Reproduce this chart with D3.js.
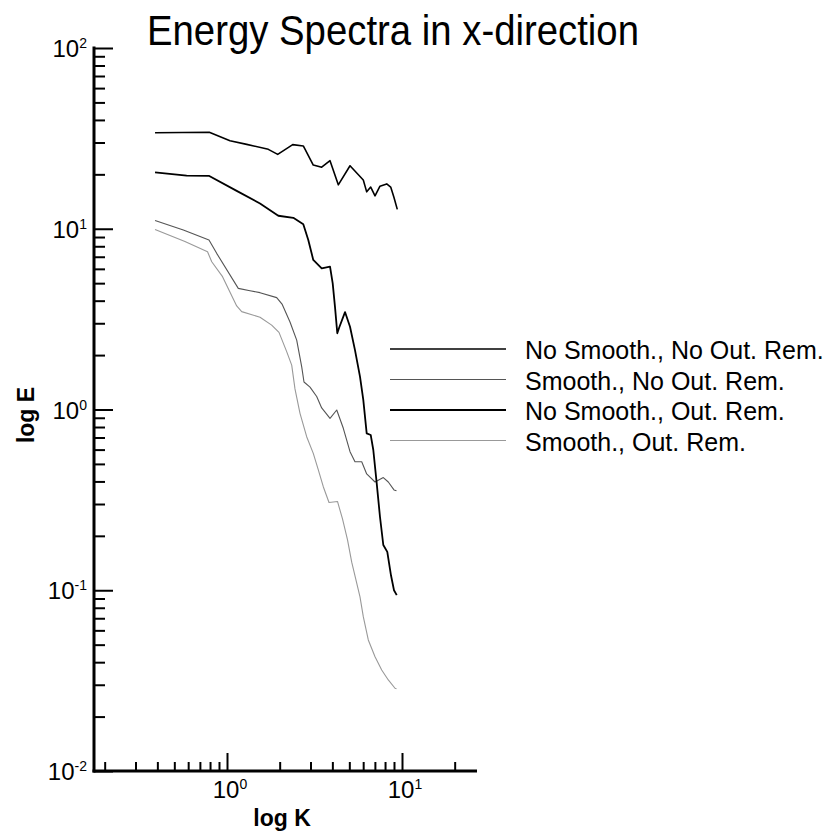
<!DOCTYPE html>
<html>
<head>
<meta charset="utf-8">
<script src="https://cdn.jsdelivr.net/npm/d3@7"></script>
<style>
  body { margin: 0; background: #fff; }
  text { font-family: "Liberation Sans", Arial, Helvetica, sans-serif; fill: #000; }
</style>
</head>
<body>
<div id="chart"></div>
<script>
// series names, in legend order
const seriesNames = [
  "No Smooth., No Out. Rem.",
  "Smooth., No Out. Rem.",
  "No Smooth., Out. Rem.",
  "Smooth., Out. Rem."
];

// wavenumber K and energy E
const kNoSmoothNoOut = [0.388, 0.792, 1.04, 1.296, 1.722, 1.949, 2.374, 2.729, 3.112, 3.476, 3.879, 4.325, 5.046, 6.009, 6.284, 6.625, 7.012, 7.484, 8.178, 8.618, 9.0, 9.40];
const eNoSmoothNoOut = [34.0, 34.2, 30.7, 29.3, 27.5, 25.8, 29.2, 28.7, 22.5, 21.9, 23.8, 17.5, 22.3, 18.6, 16.0, 17.0, 15.2, 17.2, 17.7, 17.0, 14.9, 12.8];

const kSmoothNoOut = [0.388, 0.563, 0.789, 0.873, 1.16, 1.353, 1.544, 1.923, 2.063, 2.291, 2.502, 2.673, 2.754, 2.981, 3.255, 3.476, 3.879, 4.237, 4.62, 5.046, 5.387, 5.886, 6.284, 7.012, 7.82, 8.35, 9.0, 9.3];
const eSmoothNoOut = [11.1, 9.84, 8.67, 7.31, 4.68, 4.54, 4.43, 4.16, 3.83, 3.05, 2.42, 1.72, 1.42, 1.33, 1.18, 1.02, 0.894, 0.994, 0.787, 0.584, 0.514, 0.514, 0.440, 0.397, 0.420, 0.397, 0.359, 0.355];

const kNoSmoothOut = [0.388, 0.588, 0.792, 1.136, 1.544, 1.964, 2.393, 2.729, 2.914, 3.112, 3.476, 3.879, 4.018, 4.141, 4.268, 4.383, 4.725, 5.046, 5.387, 5.754, 6.009, 6.284, 6.625, 6.855, 7.168, 7.484, 7.82, 8.24, 8.65, 9.0, 9.33];
const eNoSmoothOut = [20.5, 19.7, 19.6, 16.2, 13.8, 11.8, 11.5, 10.6, 8.67, 6.72, 6.04, 6.17, 4.99, 3.70, 2.64, 2.85, 3.46, 2.87, 2.13, 1.52, 1.13, 0.738, 0.723, 0.597, 0.391, 0.255, 0.178, 0.163, 0.121, 0.100, 0.094];

const kSmoothOut = [0.388, 0.575, 0.774, 0.818, 0.943, 1.136, 1.213, 1.544, 1.8, 1.982, 2.193, 2.343, 2.446, 2.613, 2.853, 3.112, 3.325, 3.55, 3.828, 4.279, 4.571, 4.883, 5.16, 5.754, 6.009, 6.418, 7.012, 7.656, 8.35, 9.12, 9.3];
const eSmoothOut = [9.91, 8.50, 7.46, 6.57, 5.43, 3.74, 3.48, 3.24, 2.93, 2.67, 2.09, 1.76, 1.30, 0.953, 0.707, 0.572, 0.463, 0.374, 0.306, 0.310, 0.248, 0.190, 0.143, 0.092, 0.0714, 0.0531, 0.0429, 0.0362, 0.0319, 0.0287, 0.0285];

// axis ticks
const xMajor = [1, 10];
const xMinor = [0.2, 0.3, 0.4, 0.5, 0.6, 0.7, 0.8, 0.9, 2, 3, 4, 5, 6, 7, 8, 9, 20];
const yMajor = [0.01, 0.1, 1, 10, 100];
const yMinor = [];
[0.01, 0.1, 1, 10].forEach(d => { for (let i = 2; i <= 9; i++) yMinor.push(+(d * i).toPrecision(3)); });

const kSets = [kNoSmoothNoOut, kSmoothNoOut, kNoSmoothOut, kSmoothOut];
const eSets = [eNoSmoothNoOut, eSmoothNoOut, eNoSmoothOut, eSmoothOut];
const styles = [
  {stroke: "#000", width: 1.6},
  {stroke: "#555", width: 1.1},
  {stroke: "#000", width: 1.8},
  {stroke: "#999", width: 1.1}
];

const W = 830, H = 838;
const svg = d3.select("#chart").append("svg")
  .attr("width", W)
  .attr("height", H);

// x: 10^0 at 227px, 10^1 at 402px
const x = d3.scaleLog()
  .domain([Math.pow(10, (94 - 227) / 175), Math.pow(10, (477 - 227) / 175)])
  .range([94, 477]);
const y = d3.scaleLog()
  .domain([0.01, 100])
  .range([771, 48]);

// title
svg.append("text")
  .attr("x", 147)
  .attr("y", 45)
  .attr("textLength", 492)
  .attr("lengthAdjust", "spacingAndGlyphs")
  .style("font-size", "42px")
  .text("Energy Spectra in x-direction");

// Y axis
const yAxis = svg.append("g")
  .attr("transform", "translate(94,0)")
  .call(d3.axisLeft(y).tickValues(yMajor.concat(yMinor)).tickSize(-11).tickSizeOuter(0).tickFormat(""));
yAxis.select(".domain").attr("stroke-width", 3).attr("d", "M0,46.5V772.5");
yAxis.selectAll(".tick line")
  .attr("stroke-width", 2)
  .attr("x2", d => yMajor.includes(d) ? 19 : 11);

// X axis
const xAxis = svg.append("g")
  .attr("transform", "translate(0,771)")
  .call(d3.axisBottom(x).tickValues(xMajor.concat(xMinor)).tickSize(-9).tickSizeOuter(0).tickFormat(""));
xAxis.select(".domain").attr("stroke-width", 3).attr("d", "M92.5,0H477");
xAxis.selectAll(".tick line")
  .attr("stroke-width", 2)
  .attr("y2", d => xMajor.includes(d) ? -18 : -9);

function powLabel(sel, d) {
  const e = Math.round(Math.log10(d));
  sel.append("tspan").text("10");
  sel.append("tspan")
    .attr("dy", -9)
    .style("font-size", "14px")
    .text(e);
}

// y tick labels
yMajor.forEach(d => {
  const t = svg.append("text")
    .attr("x", 87)
    .attr("y", y(d) + 9)
    .attr("text-anchor", "end")
    .style("font-size", "24px");
  powLabel(t, d);
});

// x tick labels
xMajor.forEach(d => {
  const t = svg.append("text")
    .attr("x", x(d) + 3)
    .attr("y", 798)
    .attr("text-anchor", "middle")
    .style("font-size", "24px");
  powLabel(t, d);
});

// axis titles
svg.append("text")
  .attr("x", 282)
  .attr("y", 826)
  .attr("text-anchor", "middle")
  .style("font-size", "23px")
  .style("font-weight", "bold")
  .text("log K");

svg.append("text")
  .attr("transform", "translate(34,415) rotate(-90)")
  .attr("text-anchor", "middle")
  .style("font-size", "23px")
  .style("font-weight", "bold")
  .text("log E");

// data lines
const line = d3.line()
  .x(d => x(d[0]))
  .y(d => y(d[1]));

seriesNames.forEach((name, i) => {
  const pts = kSets[i].map((k, j) => [k, eSets[i][j]]);
  svg.append("path")
    .datum(pts)
    .attr("d", line)
    .attr("fill", "none")
    .attr("stroke", styles[i].stroke)
    .attr("stroke-width", styles[i].width)
    .attr("stroke-linejoin", "round");
});

// legend
const legend = svg.append("g");
seriesNames.forEach((name, i) => {
  const ly = 349 + i * 30.5;
  legend.append("line")
    .attr("x1", 390).attr("x2", 506)
    .attr("y1", ly).attr("y2", ly)
    .attr("stroke", styles[i].stroke)
    .attr("stroke-width", styles[i].width);
  legend.append("text")
    .attr("x", 525)
    .attr("y", ly + 10)
    .style("font-size", "25px")
    .text(name);
});
</script>
</body>
</html>
